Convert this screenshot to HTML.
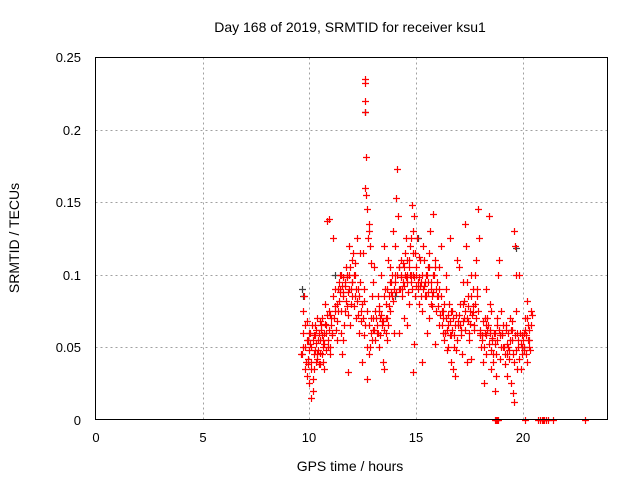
<!DOCTYPE html>
<html><head><meta charset="utf-8"><style>
body{margin:0;background:#fff}
svg{display:block;font-family:"Liberation Sans",sans-serif}
</style></head><body>
<svg id="c" width="640" height="480">
<rect width="640" height="480" fill="#fff"/>
<text x="350" y="32" font-size="14" text-anchor="middle">Day 168 of 2019, SRMTID for receiver ksu1</text>
<text x="350" y="471" font-size="14" text-anchor="middle">GPS time / hours</text>
<text transform="translate(19,238) rotate(-90)" font-size="14" text-anchor="middle">SRMTID / TECUs</text>
<g id="grid"></g><g id="marks"></g>
<rect x="95.5" y="57.5" width="512" height="362" fill="none" stroke="#000"/>
<g id="ticks"></g>
</svg>
<script>
const xTicks=[0,5,10,15,20];
const yTicks=[0,0.05,0.1,0.15,0.2,0.25];
const yTickLabels=["0","0.05","0.1","0.15","0.2","0.25"];
const redTimes=[9.6,9.65,9.7,9.7,9.75,9.8,9.8,9.85,9.9,9.9,9.95,9.95,10.0,10.0,
10.05,10.1,10.1,10.15,10.2,10.2,10.25,10.3,10.3,10.35,10.4,10.45,10.5,10.5,10.55,10.6,10.6,10.65,10.7,10.7,10.75,10.8,10.85,10.9,10.9,10.95,11.0,
11.05,11.1,11.15,11.2,11.25,11.3,11.35,11.4,11.5,11.5,11.55,11.6,11.65,11.7,11.75,11.8,11.85,11.9,11.95,12.0,12.0,11.8,11.45,11.6,
12.05,12.1,12.15,12.2,12.25,12.3,12.35,12.4,12.45,12.5,12.55,12.6,12.62,12.62,12.62,12.62,12.65,12.63,12.66,12.7,12.75,12.78,12.8,12.85,12.9,12.95,13.0,12.7,12.8,12.9,13.0,
13.05,13.1,13.15,13.2,13.25,13.3,13.35,13.4,13.45,13.5,13.55,13.6,13.65,13.7,13.75,13.8,13.85,13.9,13.95,14.0,13.5,13.6,13.8,14.0,
14.05,14.1,14.15,14.2,14.25,14.3,14.35,14.4,14.45,14.5,14.55,14.6,14.65,14.7,14.75,14.8,14.85,14.9,14.95,15.0,14.6,14.9,14.85,14.2,
15.05,15.1,15.15,15.2,15.25,15.3,15.35,15.4,15.45,15.5,15.55,15.6,15.65,15.7,15.75,15.8,15.85,15.9,15.95,16.0,15.3,15.6,15.9,
16.05,16.1,16.15,16.2,16.25,16.3,16.35,16.4,16.45,16.5,16.55,16.6,16.65,16.7,16.75,16.8,16.85,16.9,16.95,17.0,16.4,16.6,16.1,
17.05,17.1,17.15,17.2,17.25,17.3,17.35,17.4,17.45,17.5,17.55,17.6,17.65,17.7,17.75,17.8,17.85,17.9,17.95,18.0,17.4,17.6,
18.05,18.1,18.15,18.2,18.25,18.3,18.35,18.4,18.45,18.5,18.55,18.6,18.65,18.7,18.75,18.8,18.85,18.9,18.95,19.0,18.3,18.5,18.75,
19.05,19.1,19.15,19.2,19.25,19.3,19.35,19.4,19.45,19.5,19.55,19.6,19.65,19.7,19.75,19.8,19.85,19.9,19.95,19.6,19.55,19.7,
20.05,20.1,20.15,20.2,20.25,20.3,20.35,20.4,19.95,20.2,
18.7,18.75,18.8,18.85,20.1,20.7,20.8,20.9,20.95,21.0,21.1,21.2,21.4,22.9];
const redValues=[0.045,0.045,0.06,0.075,0.085,0.05,0.035,0.04,0.068,0.03,0.055,0.042,0.048,0.025,
0.06,0.05,0.015,0.02,0.045,0.058,0.065,0.04,0.053,0.07,0.048,0.06,0.055,0.038,0.065,0.07,0.045,0.05,0.06,0.035,0.08,0.06,0.137,0.138,0.075,0.045,0.065,
0.058,0.125,0.07,0.09,0.062,0.08,0.09,0.095,0.1,0.06,0.045,0.085,0.075,0.105,0.098,0.088,0.12,0.065,0.08,0.11,0.095,0.033,0.1,0.055,
0.115,0.1,0.085,0.07,0.125,0.09,0.06,0.075,0.04,0.115,0.09,0.065,0.235,0.232,0.22,0.212,0.181,0.16,0.155,0.145,0.125,0.135,0.13,0.12,0.108,0.085,0.07,0.028,0.045,0.06,0.095,
0.105,0.075,0.06,0.085,0.05,0.07,0.1,0.065,0.04,0.12,0.09,0.08,0.055,0.11,0.085,0.075,0.095,0.13,0.06,0.1,0.035,0.06,0.105,0.12,
0.153,0.173,0.14,0.105,0.09,0.11,0.085,0.095,0.07,0.115,0.125,0.1,0.08,0.1,0.095,0.148,0.13,0.14,0.085,0.105,0.065,0.052,0.033,0.06,
0.125,0.09,0.08,0.11,0.095,0.075,0.12,0.085,0.1,0.06,0.105,0.115,0.13,0.09,0.085,0.142,0.1,0.11,0.075,0.095,0.04,0.07,0.052,
0.085,0.065,0.12,0.075,0.07,0.055,0.06,0.09,0.048,0.05,0.08,0.068,0.04,0.075,0.035,0.058,0.03,0.11,0.065,0.105,0.1,0.125,0.105,
0.08,0.062,0.045,0.095,0.07,0.135,0.12,0.095,0.085,0.055,0.075,0.1,0.09,0.065,0.1,0.11,0.085,0.145,0.125,0.06,0.04,0.042,
0.05,0.058,0.04,0.025,0.07,0.045,0.062,0.14,0.08,0.035,0.055,0.04,0.06,0.02,0.045,0.065,0.1,0.11,0.042,0.075,0.09,0.075,0.03,
0.06,0.05,0.038,0.065,0.03,0.05,0.042,0.07,0.025,0.055,0.045,0.13,0.12,0.1,0.06,0.055,0.1,0.035,0.045,0.012,0.018,0.075,
0.06,0.07,0.045,0.082,0.065,0.055,0.048,0.075,0.05,0.04,
0,0,0,0,0,0,0,0,0,0,0,0,0,0];
const moreTimes=[9.72,9.78,9.88,9.92,9.98,10.02,10.08,10.12,10.18,10.22,10.28,10.32,10.38,10.42,10.48,10.52,10.58,10.62,10.68,10.72,10.78,10.82,10.88,10.92,10.98,10.06,10.16,10.26,10.36,10.46,10.56,10.66,10.76,10.86,10.96,
11.02,11.08,11.12,11.18,11.22,11.28,11.32,11.38,11.42,11.48,11.52,11.58,11.62,11.68,11.72,11.78,11.82,11.88,11.92,11.98,11.36,11.46,11.56,11.66,11.76,11.86,11.96,
12.02,12.08,12.12,12.18,12.22,12.28,12.32,12.38,12.42,12.48,12.52,12.58,12.68,12.72,12.82,12.88,12.92,12.98,12.16,12.36,12.56,12.86,
13.02,13.08,13.12,13.18,13.22,13.28,13.32,13.38,13.42,13.48,13.52,13.58,13.62,13.68,13.72,13.78,13.82,13.88,13.92,13.98,13.26,13.46,13.66,13.86,
14.02,14.08,14.12,14.18,14.22,14.28,14.32,14.38,14.42,14.48,14.52,14.58,14.62,14.68,14.72,14.78,14.82,14.88,14.92,14.98,14.36,14.46,14.56,14.66,14.76,14.86,14.96,
15.02,15.08,15.12,15.18,15.22,15.28,15.32,15.38,15.42,15.48,15.52,15.58,15.62,15.68,15.72,15.78,15.82,15.88,15.92,15.98,15.16,15.36,15.56,15.76,
16.02,16.08,16.12,16.18,16.22,16.28,16.32,16.38,16.42,16.48,16.52,16.58,16.62,16.68,16.72,16.78,16.82,16.88,16.92,16.98,16.26,16.46,16.66,16.86,
17.02,17.08,17.12,17.18,17.22,17.28,17.32,17.38,17.42,17.48,17.52,17.58,17.62,17.68,17.72,17.78,17.82,17.88,17.92,17.98,17.26,17.46,17.66,
18.02,18.08,18.12,18.18,18.22,18.28,18.32,18.38,18.42,18.48,18.52,18.58,18.62,18.68,18.72,18.78,18.82,18.88,18.92,18.98,18.26,18.46,
19.02,19.08,19.12,19.18,19.22,19.28,19.32,19.38,19.42,19.48,19.52,19.58,19.62,19.68,19.72,19.78,19.82,19.88,19.92,19.98,19.26,19.46,
20.02,20.08,20.12,20.18,20.22,20.28,20.32,20.38,20.42,20.06,20.26];
const moreValues=[0.05,0.065,0.055,0.038,0.06,0.052,0.04,0.065,0.055,0.035,0.048,0.062,0.042,0.055,0.068,0.046,0.058,0.04,0.052,0.066,0.048,0.072,0.055,0.062,0.05,0.035,0.028,0.058,0.045,0.038,0.062,0.055,0.065,0.05,0.072,
0.07,0.06,0.085,0.075,0.078,0.055,0.068,0.082,0.09,0.075,0.092,0.088,0.065,0.095,0.082,0.1,0.072,0.09,0.105,0.085,0.075,0.088,0.098,0.092,0.078,0.1,0.09,
0.095,0.078,0.1,0.09,0.082,0.072,0.085,0.095,0.068,0.08,0.07,0.058,0.05,0.075,0.065,0.07,0.055,0.062,0.108,0.115,0.082,0.05,
0.062,0.055,0.07,0.065,0.06,0.078,0.058,0.072,0.068,0.085,0.062,0.07,0.09,0.065,0.078,0.095,0.088,0.1,0.082,0.09,0.075,0.068,0.07,0.085,
0.095,0.088,0.1,0.09,0.105,0.098,0.1,0.108,0.092,0.1,0.098,0.11,0.088,0.105,0.12,0.1,0.09,0.115,0.098,0.092,0.09,0.105,0.095,0.11,0.125,0.1,0.115,
0.1,0.095,0.112,0.092,0.085,0.1,0.09,0.11,0.095,0.085,0.1,0.095,0.105,0.08,0.095,0.1,0.088,0.105,0.09,0.085,0.098,0.092,0.088,0.078,
0.078,0.09,0.072,0.085,0.065,0.075,0.08,0.06,0.07,0.065,0.072,0.058,0.075,0.062,0.07,0.05,0.065,0.072,0.055,0.068,0.06,0.062,0.058,0.048,
0.072,0.065,0.058,0.08,0.068,0.075,0.062,0.07,0.078,0.06,0.066,0.085,0.072,0.078,0.062,0.08,0.07,0.09,0.075,0.058,0.082,0.068,0.074,
0.062,0.055,0.068,0.05,0.06,0.058,0.07,0.065,0.052,0.062,0.048,0.056,0.045,0.052,0.06,0.055,0.07,0.062,0.058,0.05,0.065,0.06,
0.058,0.065,0.05,0.045,0.062,0.052,0.06,0.048,0.055,0.068,0.062,0.04,0.058,0.048,0.035,0.05,0.042,0.06,0.052,0.058,0.045,0.062,
0.055,0.05,0.062,0.058,0.07,0.062,0.05,0.065,0.072,0.048,0.055];
const grayTimes=[9.65,9.7,12.62,14.0,19.7,20.05,15.1,11.2];
const grayValues=[0.09,0.085,0.212,0.085,0.118,0.05,0.125,0.1];
const X0=96,XS=21.333,Y0=419.5,YS=1450;
function xs(v){return X0+v*XS;}
function ys(v){return Y0-v*YS;}
const NS="http://www.w3.org/2000/svg";
const grid=document.getElementById('grid'),ticks=document.getElementById('ticks'),marks=document.getElementById('marks');
function mk(tag,at,parent){const e=document.createElementNS(NS,tag);for(const k in at)e.setAttribute(k,at[k]);parent.appendChild(e);return e;}
xTicks.forEach(t=>{const x=Math.round(xs(t))+0.5;
 if(t>0){const g=mk('line',{x1:x,x2:x,y1:57.5,y2:419.5,stroke:'#a0a0a0','stroke-dasharray':'2,3'},grid);
 
 }
 const l=mk('text',{x:x-0.5,y:442,'font-size':13,'text-anchor':'middle'},ticks);l.textContent=t;
 
 
});
yTicks.forEach((t,i)=>{const y=Math.round(ys(t))+0.5;
 if(t>0&&t<0.25){const g=mk('line',{x1:95.5,x2:607.5,y1:y,y2:y,stroke:'#a0a0a0','stroke-dasharray':'2,3'},grid);
 
 }
 const l=mk('text',{x:81,y:y+4.5,'font-size':13,'text-anchor':'end'},ticks);l.textContent=yTickLabels[i];
 
 
});
function plot(T,V,color,name){T.forEach((t,i)=>{const x=Math.round(xs(t))+0.5,y=Math.round(ys(V[i]))+0.5;
 const p=mk('path',{d:`M${x-3.5} ${y}h7M${x} ${y-3.5}v7`,stroke:color,'stroke-width':1.2,fill:'none'},marks);
 
 
});}
plot(grayTimes,grayValues,'#404040','gray-point');
plot(redTimes,redValues,'#ff0000','red-point');
plot(moreTimes,moreValues,'#ff0000','red-point');
</script>
</body></html>
